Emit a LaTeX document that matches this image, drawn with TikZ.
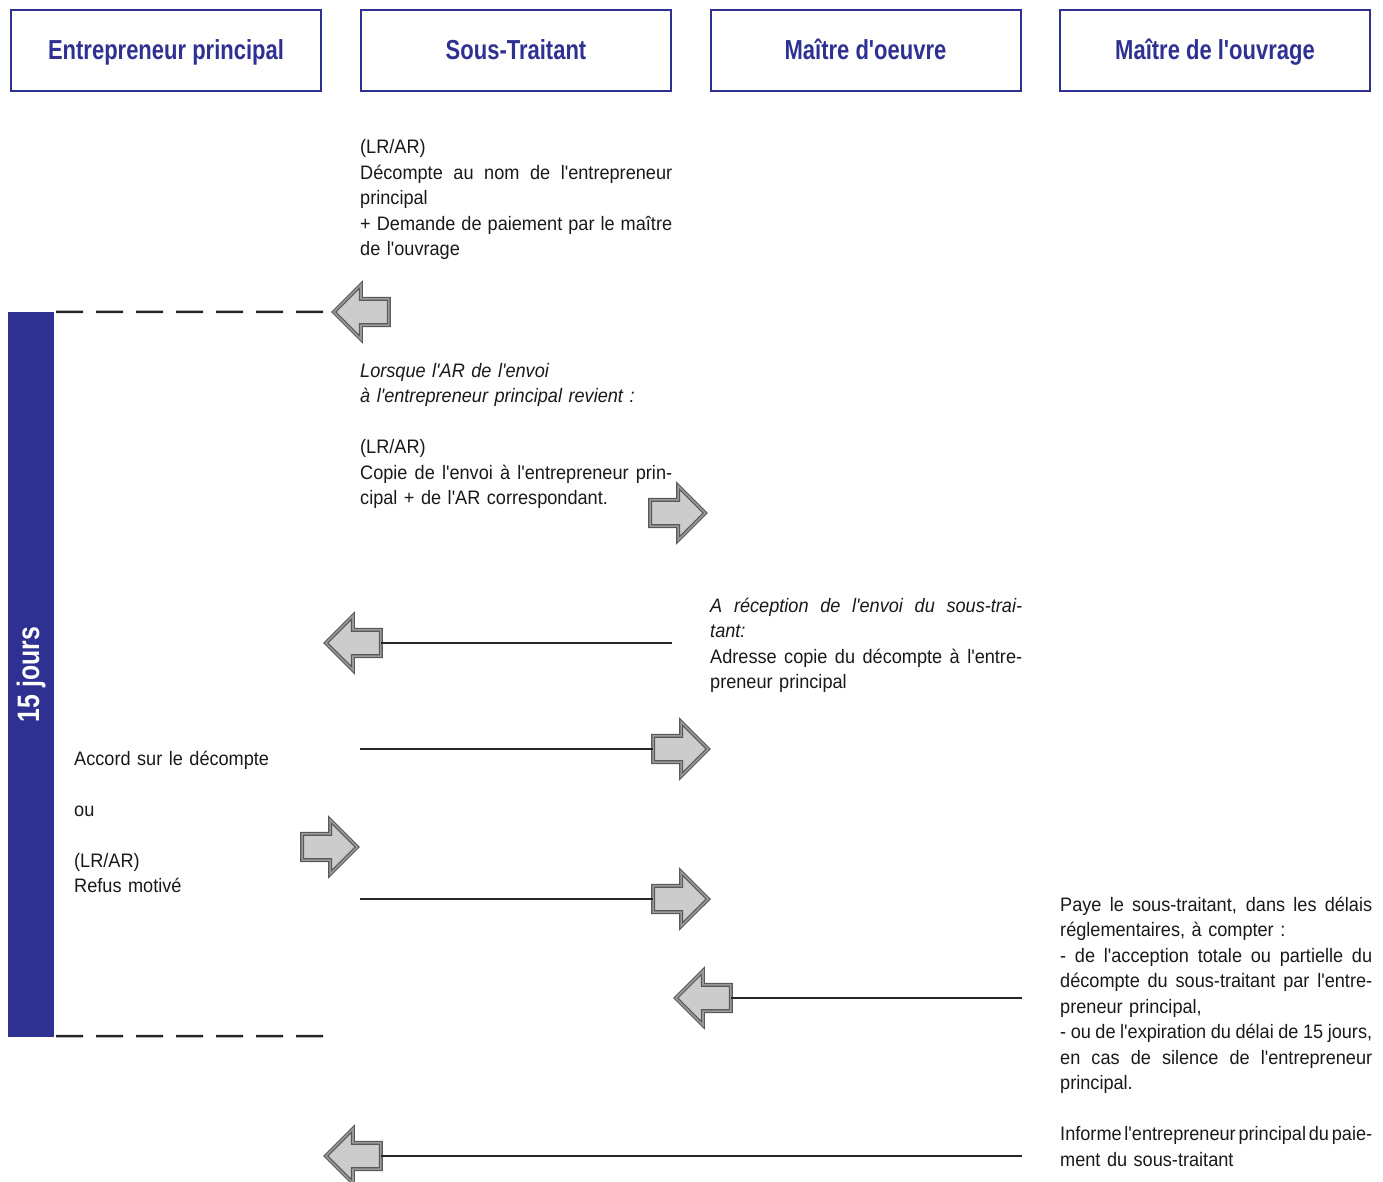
\documentclass[tikz,border=0pt]{standalone}
\usepackage{fontspec}
\setmainfont{Liberation Sans}[FakeStretch=0.93,Ligatures=TeXOff]
\newfontfamily\headfont{Liberation Sans}[FakeStretch=0.8,Ligatures=TeXOff]
\usetikzlibrary{shapes.arrows}
\definecolor{navy}{HTML}{2E3192}
\newlength{\colw}
\setlength{\colw}{312pt}
\newcommand{\jl}[1]{\makebox[\colw][s]{\spaceskip=.27em plus .8em minus .15em\relax#1}}

\begin{document}
\begin{tikzpicture}[x=1pt,y=-1pt,
	head_node/.style={draw=navy,line width=2pt,minimum width=310pt,minimum height=81pt,inner sep=0pt,text=navy,font=\headfont\bfseries\fontsize{27.5}{30}\selectfont,text height=20pt,text depth=2pt},
	text_node/.style={anchor=base west,inner sep=0pt,text width=\colw,align=left,font=\fontsize{19.5}{25.5}\selectfont,text=black!90},
	arrow_node/.style={single arrow,draw=black!65,double=black!40,double distance=1.6pt,line width=1.2pt,fill=black!20,single arrow head extend=14pt,single arrow tip angle=90,minimum height=55pt,text height=25pt,text depth=0pt,text width=0pt,inner sep=0pt},
	left_arrow/.style={arrow_node,rotate=180},
	flow_line/.style={line width=2pt,black!85},
	dash_line/.style={line width=2.5pt,black!85,dash pattern=on 27pt off 13pt}]

		\useasboundingbox (0,0) rectangle (1383,1182);

		\node[head_node] (h1) at (166,50.5) {Entrepreneur principal};
		\node[head_node] (h2) at (516,50.5) {Sous-Traitant};
		\node[head_node] (h3) at (865.5,50.5) {Maître d'oeuvre};
		\node[head_node] (h4) at (1215,50.5) {Maître de l'ouvrage};

		\node[fill=navy,minimum width=46pt,minimum height=725pt,inner sep=0pt] (bar) at (31,674.5) {};
		\node[rotate=90,text=white,font=\headfont\bfseries\fontsize{31}{31}\selectfont] (days) at (bar.center) {15 jours};

		\node[left_arrow,anchor=tip] (a1) at (333,312) {};
		\node[arrow_node,anchor=tip] (a2) at (706,513) {};
		\node[left_arrow,anchor=tip] (a3) at (325,643) {};
		\node[arrow_node,anchor=tip] (a4) at (709,749) {};
		\node[arrow_node,anchor=tip] (a5) at (358,847) {};
		\node[arrow_node,anchor=tip] (a6) at (709,899) {};
		\node[left_arrow,anchor=tip] (a7) at (675,998) {};
		\node[left_arrow,anchor=tip] (a8) at (325,1156) {};

		\coordinate (l3) at (672,643);
		\coordinate (l4) at (360,749);
		\coordinate (l6) at (360,899);
		\coordinate (l7) at (1022,998);
		\coordinate (l8) at (1022,1156);
		\coordinate (d2) at (332,1036);

		\draw[dash_line] ([xshift=2pt]bar.north east) -- (a1.tip);
		\draw[dash_line] ([xshift=2pt,yshift=1pt]bar.south east) -- (d2);
		\draw[flow_line] (a3.tail) -- (l3);
		\draw[flow_line] (l4) -- (a4.tail);
		\draw[flow_line] (l6) -- (a6.tail);
		\draw[flow_line] (a7.tail) -- (l7);
		\draw[flow_line] (a8.tail) -- (l8);

		\node[text_node] (t1) at (360,154) {(LR/AR)\\\jl{Décompte au nom de l'entrepreneur}\\principal\\\jl{+ Demande de paiement par le maître}\\de l'ouvrage};
		\node[text_node] (t2) at (360,377) {\itshape Lorsque l'AR de l'envoi\\à l'entrepreneur principal revient :\\[25.5pt]\upshape (LR/AR)\\\jl{Copie de l'envoi à l'entrepreneur prin-}\\cipal + de l'AR correspondant.};
		\node[text_node] (t3) at (710,612) {\jl{\itshape A réception de l'envoi du sous-trai-}\\\textit{tant:}\\\jl{Adresse copie du décompte à l'entre-}\\preneur principal};
		\node[text_node] (t4) at (74,765) {Accord sur le décompte\\[25.5pt]ou\\[25.5pt](LR/AR)\\Refus motivé};
		\node[text_node] (t5) at (1060,911) {\jl{Paye le sous-traitant, dans les délais}\\réglementaires, à compter :\\\jl{- de l'acception totale ou partielle du}\\\jl{décompte du sous-traitant par l'entre-}\\preneur principal,\\\jl{- ou de l'expiration du délai de 15 jours,}\\\jl{en cas de silence de l'entrepreneur}\\principal.\\[25.5pt]\jl{Informe l'entrepreneur principal du paie-}\\ment du sous-traitant};
		\end{tikzpicture}
\end{document}
